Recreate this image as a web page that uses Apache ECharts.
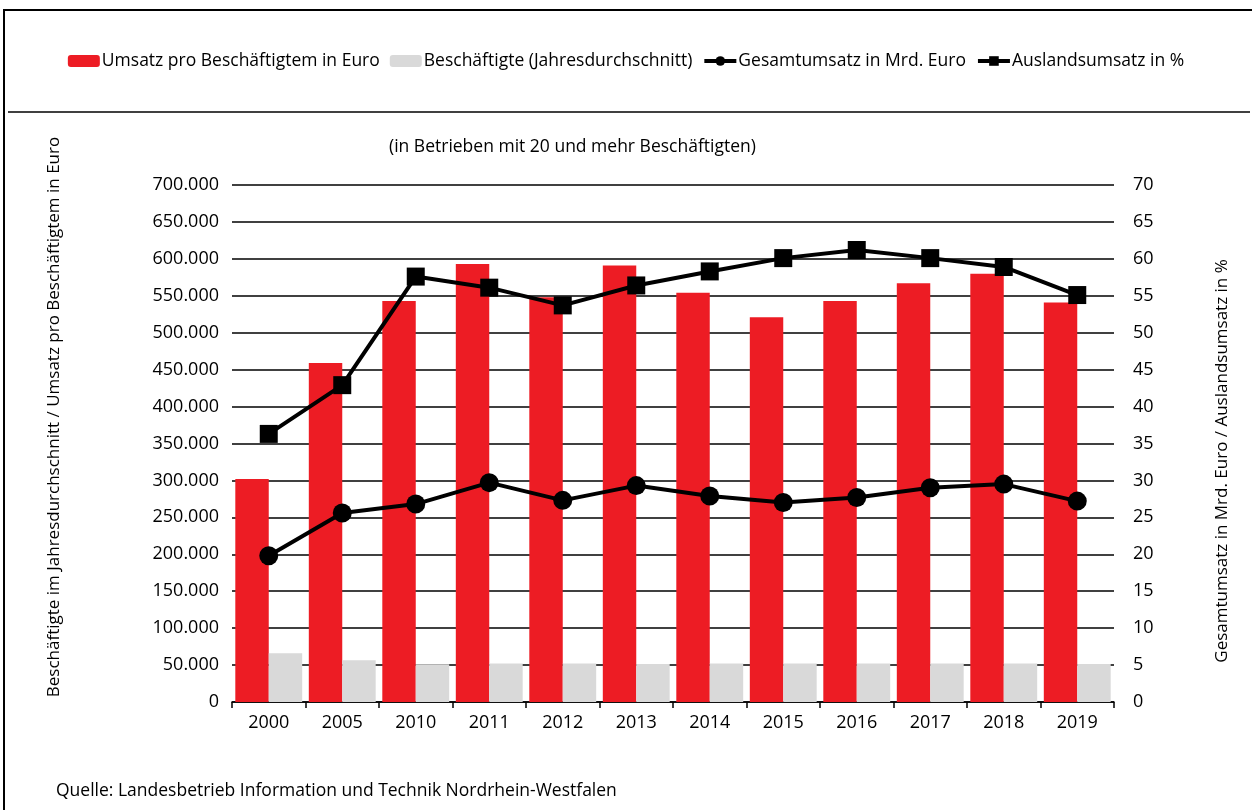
<!DOCTYPE html>
<html><head><meta charset="utf-8">
<script src="https://cdn.jsdelivr.net/npm/echarts@6/dist/echarts.min.js"></script>
<style>html,body{margin:0;padding:0;background:#fff}#c{width:1252px;height:810px}</style>
</head><body><div id="c"></div>
<script>
const years = ['2000','2005','2010','2011','2012','2013','2014','2015','2016','2017','2018','2019'];
const umsatzProBesch = [302000,459000,543000,593000,548000,591000,554000,521000,543000,567000,580000,541000];
const beschaeftigte = [66000,56500,51000,52000,52000,51500,52000,52000,52000,52000,52000,51500];
const gesamtumsatz = [19.8,25.6,26.8,29.7,27.3,29.3,27.9,27.0,27.7,29.0,29.5,27.2];
const auslandsumsatz = [36.3,42.9,57.6,56.1,53.7,56.4,58.3,60.1,61.2,60.1,58.9,55.1];
const leftAxisName = 'Beschäftigte im Jahresdurchschnitt / Umsatz pro Beschäftigtem in Euro';
const rightAxisName = 'Gesamtumsatz in Mrd. Euro / Auslandsumsatz in %';

const FONT = "'Open Sans','Noto Sans',sans-serif";
const fmt = v => String(v).replace(/\B(?=(\d{3})+(?!\d))/g, '.');
const chart = echarts.init(document.getElementById('c'));
chart.setOption({
  animation:false,
  textStyle:{fontFamily:FONT,color:'#000'},
  title:[
    {text:'(in Betrieben mit 20 und mehr Beschäftigten)',left:384,top:133,textStyle:{fontSize:17.5,fontWeight:'normal',color:'#000',fontFamily:FONT}},
    {text:'Quelle: Landesbetrieb Information und Technik Nordrhein-Westfalen',left:51,top:777,textStyle:{fontSize:17.5,fontWeight:'normal',color:'#000',fontFamily:FONT}}
  ],
  legend:{
    left:'center',top:47,itemWidth:32,itemHeight:12,itemGap:10,
    lineStyle:{width:4},
    textStyle:{fontSize:17.5,color:'#000',fontFamily:FONT,padding:[0,0,0,-3]},
    data:['Umsatz pro Beschäftigtem in Euro','Beschäftigte (Jahresdurchschnitt)','Gesamtumsatz in Mrd. Euro','Auslandsumsatz in %']
  },
  graphic:[
    {type:'rect',shape:{x:4,y:10,width:1260,height:820},style:{fill:'none',stroke:'#000',lineWidth:2},silent:true},
    {type:'line',shape:{x1:8,y1:112,x2:1250,y2:112},style:{stroke:'#000',lineWidth:1.5},silent:true},
    {type:'text',x:54,y:417,rotation:Math.PI/2,style:{text:leftAxisName,fontSize:17,fontFamily:FONT,fill:'#000',align:'center',verticalAlign:'middle'},silent:true},
    {type:'text',x:1222,y:461,rotation:Math.PI/2,style:{text:rightAxisName,fontSize:17,fontFamily:FONT,fill:'#000',align:'center',verticalAlign:'middle'},silent:true}
  ],
  grid:{left:232,right:138,top:185,bottom:108},
  xAxis:{type:'category',data:years,
    axisLine:{lineStyle:{color:'#000',width:1.5}},
    axisTick:{show:true,length:6,lineStyle:{color:'#000',width:1.5}},
    axisLabel:{fontSize:18,color:'#000',margin:12,fontFamily:FONT}},
  yAxis:[
    {type:'value',min:0,max:700000,interval:50000,
     axisLine:{show:false},axisTick:{show:false},
     axisLabel:{fontSize:18,color:'#000',margin:13,formatter:fmt,fontFamily:FONT},
     splitLine:{lineStyle:{color:'#000',width:1.5}}},
    {type:'value',min:0,max:70,interval:5,position:'right',
     axisLine:{show:false},axisTick:{show:false},
     axisLabel:{fontSize:18,color:'#000',margin:19,fontFamily:FONT},
     splitLine:{show:false}}
  ],
  series:[
    {name:'Umsatz pro Beschäftigtem in Euro',type:'bar',data:umsatzProBesch,yAxisIndex:0,
     barGap:'0%',barCategoryGap:'9%',itemStyle:{color:'#ED1C24'}},
    {name:'Beschäftigte (Jahresdurchschnitt)',type:'bar',data:beschaeftigte,yAxisIndex:0,
     barGap:'0%',barCategoryGap:'9%',itemStyle:{color:'#D9D9D9'}},
    {name:'Gesamtumsatz in Mrd. Euro',type:'line',data:gesamtumsatz,yAxisIndex:1,
     symbol:'circle',symbolSize:19,lineStyle:{color:'#000',width:4},itemStyle:{color:'#000'},z:5},
    {name:'Auslandsumsatz in %',type:'line',data:auslandsumsatz,yAxisIndex:1,
     symbol:'rect',symbolSize:18,lineStyle:{color:'#000',width:4},itemStyle:{color:'#000'},z:5}
  ]
});
</script></body></html>
